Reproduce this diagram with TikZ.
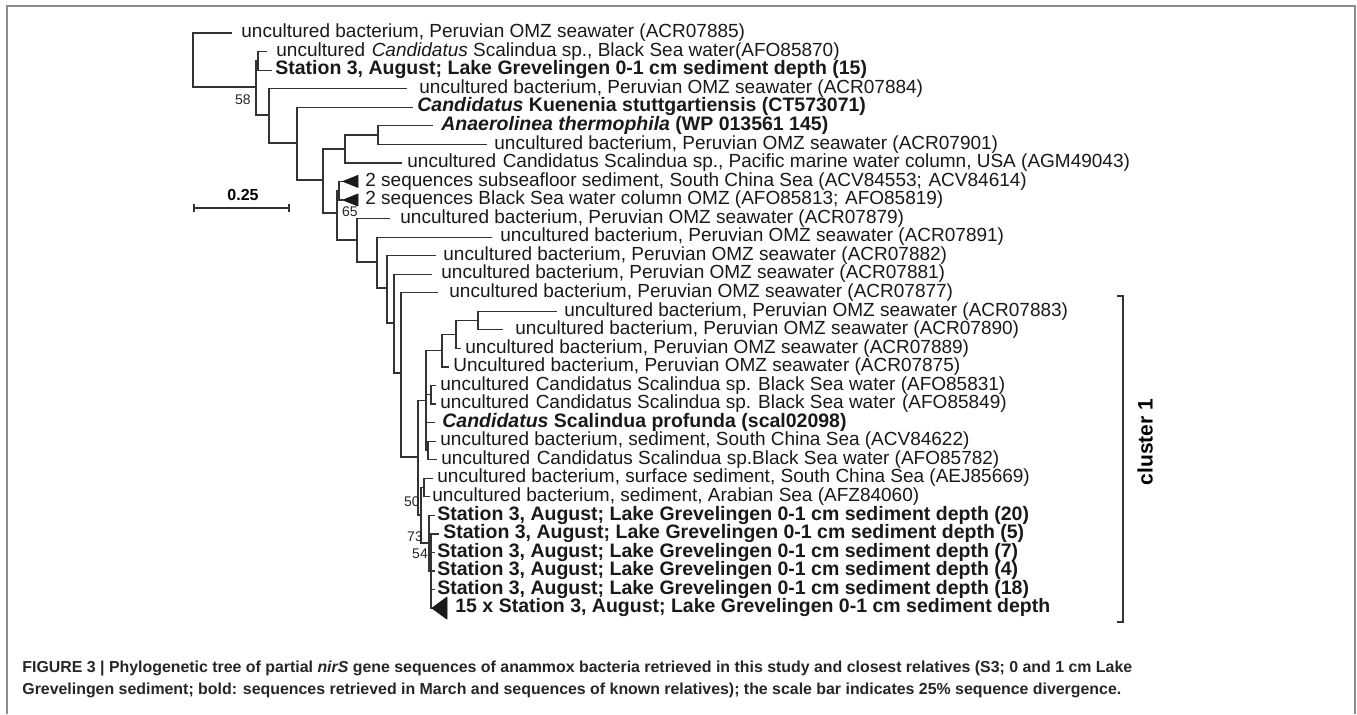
\documentclass[tikz,border=0pt]{standalone}
\usepackage{fontspec}
\setmainfont{Liberation Sans}
\usetikzlibrary{positioning}
\newcommand\leaffont{\fontsize{9.5}{10}\selectfont}
\newcommand\strainfont{\fontsize{9.75}{10}\selectfont\bfseries}
\newcommand\gap{\hspace{0.35em}}
\tikzset{
		>=stealth,
		branch/.style={draw=black!80,line width=0.6pt},
		leaf/.style={anchor=west,inner sep=0pt,text=black!90,text height=6.9pt,text depth=2.2pt,font=\leaffont},
		strain/.style={leaf,font=\strainfont},
		boot/.style={inner sep=0pt,text=black!85,font=\fontsize{7}{8}\selectfont},
		wedge/.style={fill=black!90,draw=black!90,line width=0.4pt,line join=round},
		capt/.style={anchor=west,inner sep=0pt,text=black!85,font=\fontsize{7.95}{9}\selectfont\bfseries}
	}

\begin{document}
\begin{tikzpicture}[x=0.5pt,y=-0.5pt]
          \useasboundingbox (0,0) rectangle (1357,714);
          \draw[black!45,line width=0.8pt] (7,714) -- (7,6) -- (1355,6) -- (1355,714);

          \coordinate (R) at (193,60);
          \coordinate (A) at (256,87);
          \coordinate (B) at (258,60.9);
          \coordinate (C) at (269,115);
          \coordinate (D) at (297,143);
          \coordinate (E) at (323,180);
          \coordinate (F) at (345,149);
          \coordinate (G) at (378,135);
          \coordinate (H) at (337,213);
          \coordinate (T) at (339,190.7);
          \coordinate (I) at (357,240);
          \coordinate (J) at (377,262);
          \coordinate (K) at (387,288);
          \coordinate (L) at (394,323);
          \coordinate (M) at (401,373);
          \coordinate (N) at (418,457);
          \coordinate (P) at (426,400.5);
          \coordinate (Q) at (442,350.7);
          \coordinate (Q2) at (456,334.5);
          \coordinate (Q3) at (478,320.5);
          \coordinate (U) at (431,394.8);
          \coordinate (V) at (428,450.4);
          \coordinate (S) at (421,515);
          \coordinate (X) at (424,487.5);
          \coordinate (W) at (429,543);
          \coordinate (W2) at (431,571);

          \coordinate (t1) at (232,33);
          \coordinate (t2) at (267,51.6);
          \coordinate (t3) at (272,70.1);
          \coordinate (t4) at (407,88.7);
          \coordinate (t5) at (413,107.2);
          \coordinate (t6) at (433,125.8);
          \coordinate (t7) at (487,144.3);
          \coordinate (t8) at (402,162.9);
          \coordinate (w9) at (343,181.4);
          \coordinate (w10) at (343,200);
          \coordinate (t11) at (390,218.5);
          \coordinate (t12) at (492,237.1);
          \coordinate (t13) at (436,255.6);
          \coordinate (t14) at (432,274.2);
          \coordinate (t15) at (438,292.7);
          \coordinate (t16) at (557,311.3);
          \coordinate (t17) at (503,329.8);
          \coordinate (t18) at (461,348.4);
          \coordinate (t19) at (449,366.9);
          \coordinate (t20) at (436,385.5);
          \coordinate (t21) at (436,404);
          \coordinate (t22) at (435,422.6);
          \coordinate (t23) at (436,441.1);
          \coordinate (t24) at (437,459.7);
          \coordinate (t25) at (433,478.2);
          \coordinate (t26) at (429.5,496.8);
          \coordinate (t27) at (435,515.3);
          \coordinate (t28) at (439,533.9);
          \coordinate (t29) at (435,552.4);
          \coordinate (t30) at (435,571);
          \coordinate (t31) at (435,589.5);
          \coordinate (w32) at (432,608.1);

          \foreach \p/\c in {R/t1,R/A,A/B,A/C,B/t2,B/t3,C/t4,C/D,D/t5,D/E,E/F,E/H,
                F/G,F/t8,G/t6,G/t7,H/T,H/I,T/w9,T/w10,I/t11,I/J,J/t12,J/K,K/t13,K/L,
                L/t14,L/M,M/t15,M/N,N/P,N/S,P/Q,P/U,P/t22,P/V,Q/Q2,Q/t19,Q2/Q3,Q2/t18,
                Q3/t16,Q3/t17,U/t20,U/t21,V/t23,V/t24,S/X,S/W,X/t25,X/t26,W/t27,W/W2,
                W2/t28,W2/t29,W2/t30,W2/t31,W2/w32}
            \draw[branch] (\p) |- (\c);

          \fill[wedge] (w9) -- ++(15,-6) -- ++(0,12) -- cycle;
          \fill[wedge] (w10) -- ++(15,-6) -- ++(0,12) -- cycle;
          \fill[wedge] (w32) -- ++(15,-11) -- ++(0,22) -- cycle;

          \node[leaf] (l1) at (241,33) {uncultured bacterium, Peruvian OMZ seawater (ACR07885)};
          \node[leaf] (l2) at (276,51.6) {uncultured\gap\textit{Candidatus} Scalindua sp., Black Sea water(AFO85870)};
          \node[strain] (l3) at (275,70.1) {Station 3, August; Lake Grevelingen 0-1 cm sediment depth (15)};
          \node[leaf] (l4) at (419,88.7) {uncultured bacterium, Peruvian OMZ seawater (ACR07884)};
          \node[strain] (l5) at (417,107.2) {\textit{Candidatus} Kuenenia stuttgartiensis (CT573071)};
          \node[strain] (l6) at (441,125.8) {\textit{Anaerolinea thermophila} (WP 013561 145)};
          \node[leaf] (l7) at (494,144.3) {uncultured bacterium, Peruvian OMZ seawater (ACR07901)};
          \node[leaf] (l8) at (407,162.9) {uncultured\gap Candidatus Scalindua sp., Pacific marine water column, USA (AGM49043)};
          \node[leaf] (l9) at (365,181.4) {2 sequences subseafloor sediment, South China Sea (ACV84553;\gap ACV84614)};
          \node[leaf] (l10) at (365,200) {2 sequences Black Sea water column OMZ (AFO85813;\gap AFO85819)};
          \node[leaf] (l11) at (400,218.5) {uncultured bacterium, Peruvian OMZ seawater (ACR07879)};
          \node[leaf] (l12) at (500,237.1) {uncultured bacterium, Peruvian OMZ seawater (ACR07891)};
          \node[leaf] (l13) at (443,255.6) {uncultured bacterium, Peruvian OMZ seawater (ACR07882)};
          \node[leaf] (l14) at (441,274.2) {uncultured bacterium, Peruvian OMZ seawater (ACR07881)};
          \node[leaf] (l15) at (449,292.7) {uncultured bacterium, Peruvian OMZ seawater (ACR07877)};
          \node[leaf] (l16) at (564,311.3) {uncultured bacterium, Peruvian OMZ seawater (ACR07883)};
          \node[leaf] (l17) at (515,329.8) {uncultured bacterium, Peruvian OMZ seawater (ACR07890)};
          \node[leaf] (l18) at (465,348.4) {uncultured bacterium, Peruvian OMZ seawater (ACR07889)};
          \node[leaf] (l19) at (453,366.9) {Uncultured bacterium, Peruvian OMZ seawater (ACR07875)};
          \node[leaf] (l20) at (440,385.5) {uncultured\gap Candidatus Scalindua sp. Black Sea water (AFO85831)};
          \node[leaf] (l21) at (440,404) {uncultured\gap Candidatus Scalindua sp. Black Sea water\gap(AFO85849)};
          \node[strain] (l22) at (442,422.6) {\textit{Candidatus} Scalindua profunda (scal02098)};
          \node[leaf] (l23) at (440,441.1) {uncultured bacterium, sediment, South China Sea (ACV84622)};
          \node[leaf] (l24) at (441,459.7) {uncultured\gap Candidatus Scalindua sp.Black Sea water (AFO85782)};
          \node[leaf] (l25) at (437,478.2) {uncultured bacterium, surface sediment, South China Sea (AEJ85669)};
          \node[leaf] (l26) at (432,496.8) {uncultured bacterium, sediment, Arabian Sea (AFZ84060)};
          \node[strain] (l27) at (437,515.3) {Station 3, August; Lake Grevelingen 0-1 cm sediment depth (20)};
          \node[strain] (l28) at (443,533.9) {Station 3, August; Lake Grevelingen 0-1 cm sediment depth (5)};
          \node[strain] (l29) at (437,552.4) {Station 3, August; Lake Grevelingen 0-1 cm sediment depth (7)};
          \node[strain] (l30) at (437,571) {Station 3, August; Lake Grevelingen 0-1 cm sediment depth (4)};
          \node[strain] (l31) at (437,589.5) {Station 3, August; Lake Grevelingen 0-1 cm sediment depth (18)};
          \node[strain] (l32) at (455,608.1) {15 x Station 3, August; Lake Grevelingen 0-1 cm sediment depth};

          \node[boot] (b58) at (243,100) {58};
          \node[boot] (b65) at (350,212) {65};
          \node[boot] (b50) at (412,502) {50};
          \node[boot] (b73) at (415,537) {73};
          \node[boot] (b54) at (420,554) {54};

          \coordinate (s0) at (194,208);
          \coordinate (s1) at (289,208);
          \draw[branch] (s0) -- (s1);
          \draw[branch] ([yshift=2pt]s0) -- ([yshift=-2pt]s0);
          \draw[branch] ([yshift=2pt]s1) -- ([yshift=-2pt]s1);
          \node[font=\fontsize{8}{9}\selectfont\bfseries,inner sep=0pt] (sl) at (243,195) {0.25};

          \coordinate (ct) at (1123,296);
          \coordinate (cb) at (1123,622);
          \draw[branch] ([xshift=-3pt]ct) -- (ct) -- (cb) -- ([xshift=-3pt]cb);
          \node[rotate=90,font=\fontsize{10.5}{12}\selectfont\bfseries,inner sep=0pt] (cl) at (1145,442) {cluster 1};

          \node[capt] (cap1) at (22,668) {FIGURE 3 | Phylogenetic tree of partial \textit{nirS} gene sequences of anammox bacteria retrieved in this study and closest relatives (S3; 0 and 1 cm Lake};
          \node[capt] (cap2) at (22,690) {Grevelingen sediment; bold: sequences retrieved in March and sequences of known relatives); the scale bar indicates 25\% sequence divergence.};
\end{tikzpicture}
\end{document}
